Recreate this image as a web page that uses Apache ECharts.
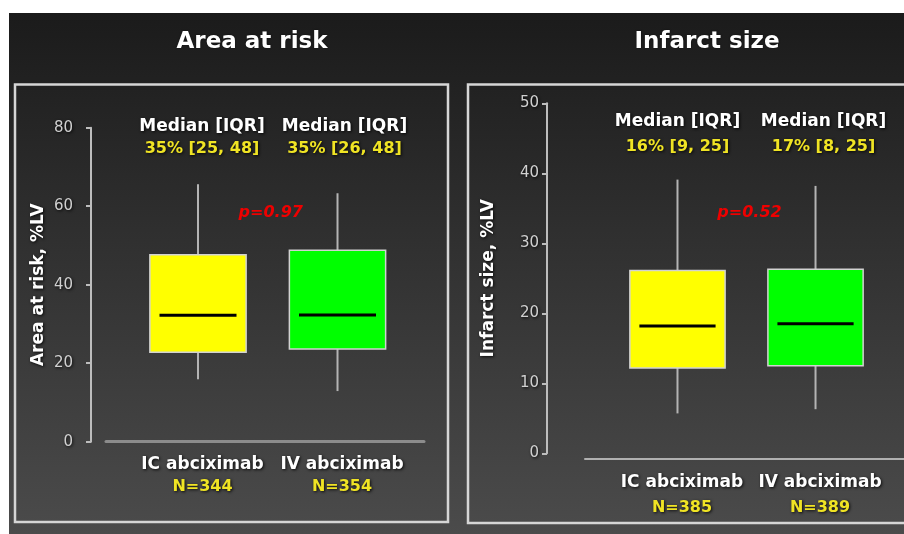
<!DOCTYPE html>
<html>
<head>
<meta charset="utf-8">
<title>Area at risk / Infarct size</title>
<script src="https://cdn.jsdelivr.net/npm/echarts@6/dist/echarts.min.js"></script>
<style>
  html, body { margin: 0; padding: 0; background: #fff; }
  #bg { position: absolute; left: 9px; top: 13px; width: 895px; height: 521px;
        background: linear-gradient(#1b1b1b, #4b4b4b); }
  #chart { position: absolute; left: 0; top: 0; width: 904px; height: 534px; }
</style>
</head>
<body>
<div id="bg"></div>
<div id="chart"></div>
<script>
// Grupos de tratamiento (posición 1 y 2 en el eje x)
const categories = ['IC abciximab', 'IV abciximab'];
const groupPos = [1, 2];
const boxColors = ['#ffff00', '#00ff00'];

// Area at risk: [min, Q1, mediana, Q3, max]
const areaBoxes = [
  [15.9, 22.8, 32.2, 47.6, 65.6],
  [12.9, 23.6, 32.3, 48.8, 63.3]
];
const areaN = ['N=344', 'N=354'];
const areaMedianText = ['35% [25, 48]', '35% [26, 48]'];
const areaP = 'p=0.97';

// Infarct size: [min, Q1, mediana, Q3, max]
const infarctBoxes = [
  [5.7, 12.2, 18.2, 26.1, 39.1],
  [6.3, 12.5, 18.5, 26.3, 38.2]
];
const infarctN = ['N=385', 'N=389'];
const infarctMedianText = ['16% [9, 25]', '17% [8, 25]'];
const infarctP = 'p=0.52';

const FONT = 'DejaVu Sans';
const shadow = { textShadowColor: 'rgba(0,0,0,0.85)', textShadowBlur: 3, textShadowOffsetX: 1, textShadowOffsetY: 1 };

const chart = echarts.init(document.getElementById('chart'));

// Caja sin remates en los bigotes y con mediana algo más corta que la caja
function boxItem(params, api) {
  const x = api.value(0);
  const lo = api.coord([x, api.value(1)]);
  const q1 = api.coord([x, api.value(2)]);
  const med = api.coord([x, api.value(3)]);
  const q3 = api.coord([x, api.value(4)]);
  const hi = api.coord([x, api.value(5)]);
  const w = api.size([1, 0])[0] * 0.69;
  const cx = lo[0];
  const whisker = { stroke: '#b4b4b4', lineWidth: 2 };
  return {
    type: 'group',
    children: [
      { type: 'line', shape: { x1: cx, y1: hi[1], x2: cx, y2: q3[1] }, style: whisker },
      { type: 'line', shape: { x1: cx, y1: q1[1], x2: cx, y2: lo[1] }, style: whisker },
      { type: 'rect', shape: { x: cx - w / 2, y: q3[1], width: w, height: q1[1] - q3[1] },
        style: { fill: boxColors[params.dataIndex], stroke: '#d2d2d2', lineWidth: 1.5 } },
      { type: 'line', shape: { x1: cx - w * 0.4, y1: med[1], x2: cx + w * 0.4, y2: med[1] },
        style: { stroke: '#000', lineWidth: 3 } }
    ]
  };
}

function xAxisFor(gridIndex, nList, min, max, offset, lineColor, lineWidth, lineHeight) {
  return {
    gridIndex: gridIndex, type: 'value', min: min, max: max, offset: offset,
    axisLine: { show: true, onZero: false, lineStyle: { color: lineColor, width: lineWidth } },
    axisTick: { show: false },
    splitLine: { show: false },
    axisLabel: {
      customValues: groupPos,
      margin: 12,
      padding: [0, 0, 0, 9],
      formatter: function (v) {
        const i = groupPos.indexOf(Math.round(v));
        return '{a|' + categories[i] + '}\n{b|' + nList[i] + '}';
      },
      rich: {
        a: Object.assign({ color: '#ffffff', fontFamily: FONT, fontWeight: 'bold', fontSize: 17, lineHeight: lineHeight }, shadow),
        b: Object.assign({ color: '#f0e424', fontFamily: FONT, fontWeight: 'bold', fontSize: 16, lineHeight: lineHeight }, shadow)
      }
    }
  };
}

function yAxisFor(gridIndex, name, max, interval, offset, labelMargin, nameGap) {
  return {
    gridIndex: gridIndex, type: 'value', min: 0, max: max, interval: interval, offset: offset,
    name: name, nameLocation: 'middle', nameGap: nameGap,
    nameTextStyle: Object.assign({ color: '#ffffff', fontFamily: FONT, fontWeight: 'bold', fontSize: 17 }, shadow),
    axisLine: { show: true, onZero: false, lineStyle: { color: '#bdbdbd', width: 2 } },
    axisTick: { show: true, length: 5, lineStyle: { color: '#bdbdbd', width: 2 } },
    splitLine: { show: false },
    axisLabel: Object.assign({ color: '#d0d0d0', fontFamily: FONT, fontSize: 15, margin: labelMargin }, shadow)
  };
}

function annotations(axisIdx, texts, y, offsets, lineHeight) {
  return {
    type: 'scatter', xAxisIndex: axisIdx, yAxisIndex: axisIdx, silent: true,
    symbolSize: 1, itemStyle: { color: 'transparent', opacity: 1 },
    data: groupPos.map((p, i) => ({ value: [p, y], label: { offset: offsets[i] } })),
    label: {
      show: true, position: 'inside',
      formatter: p => '{h|Median [IQR]}\n{v|' + texts[p.dataIndex] + '}',
      rich: {
        h: Object.assign({ color: '#ffffff', fontFamily: FONT, fontWeight: 'bold', fontSize: 17, lineHeight: lineHeight }, shadow),
        v: Object.assign({ color: '#f0e424', fontFamily: FONT, fontWeight: 'bold', fontSize: 16, lineHeight: lineHeight }, shadow)
      }
    }
  };
}

function pLabel(axisIdx, text, y) {
  return {
    type: 'scatter', xAxisIndex: axisIdx, yAxisIndex: axisIdx, silent: true,
    symbolSize: 1, itemStyle: { color: 'transparent', opacity: 1 },
    data: [[(groupPos[0] + groupPos[1]) / 2, y]],
    label: {
      show: true, position: 'inside', offset: [3, 0], formatter: text,
      color: '#ee0000', fontFamily: FONT, fontWeight: 'bold', fontStyle: 'italic', fontSize: 16
    }
  };
}

const titleStyle = { color: '#ffffff', fontFamily: FONT, fontWeight: 'bold', fontSize: 23, lineHeight: 26,
  textShadowColor: 'rgba(0,0,0,0.6)', textShadowBlur: 2 };

const option = {
  backgroundColor: 'transparent',
  animation: false,
  title: [
    { text: 'Area at risk', left: 252, top: 29, textAlign: 'center', padding: 0, textStyle: titleStyle },
    { text: 'Infarct size', left: 707, top: 29, textAlign: 'center', padding: 0, textStyle: titleStyle }
  ],
  graphic: [
    { type: 'rect', shape: { x: 15, y: 84.5, width: 433, height: 437.5 },
      style: { fill: 'none', stroke: '#d6d6d6', lineWidth: 2.5 } },
    { type: 'rect', shape: { x: 468, y: 84.5, width: 450, height: 438.5 },
      style: { fill: 'none', stroke: '#d6d6d6', lineWidth: 2.5 } }
  ],
  grid: [
    { left: 106, right: 480, top: 127.7, bottom: 92.3 },
    { left: 585, right: 0, top: 103.3, bottom: 80.7 }
  ],
  xAxis: [
    xAxisFor(0, areaN, 0.3405, 2.62, 0, '#8c8c8c', 3, 22),
    xAxisFor(1, infarctN, 0.33, 2.641, 5, '#b0b0b0', 2, 25)
  ],
  yAxis: [
    yAxisFor(0, 'Area at risk, %LV', 80, 20, 15, 18, 44),
    yAxisFor(1, 'Infarct size, %LV', 50, 10, 38, 8, 50)
  ],
  series: [
    { type: 'custom', xAxisIndex: 0, yAxisIndex: 0, renderItem: boxItem,
      encode: { x: 0, y: [1, 2, 3, 4, 5] },
      data: areaBoxes.map((b, i) => [groupPos[i]].concat(b)) },
    { type: 'custom', xAxisIndex: 1, yAxisIndex: 1, renderItem: boxItem,
      encode: { x: 0, y: [1, 2, 3, 4, 5] },
      data: infarctBoxes.map((b, i) => [groupPos[i]].concat(b)) },
    annotations(0, areaMedianText, 77.4, [[4, 0], [7, 0]], 22),
    annotations(1, infarctMedianText, 45.6, [[0, 0], [8, 0]], 25),
    pLabel(0, areaP, 58.3),
    pLabel(1, infarctP, 34.3)
  ]
};

chart.setOption(option);
</script>
</body>
</html>
